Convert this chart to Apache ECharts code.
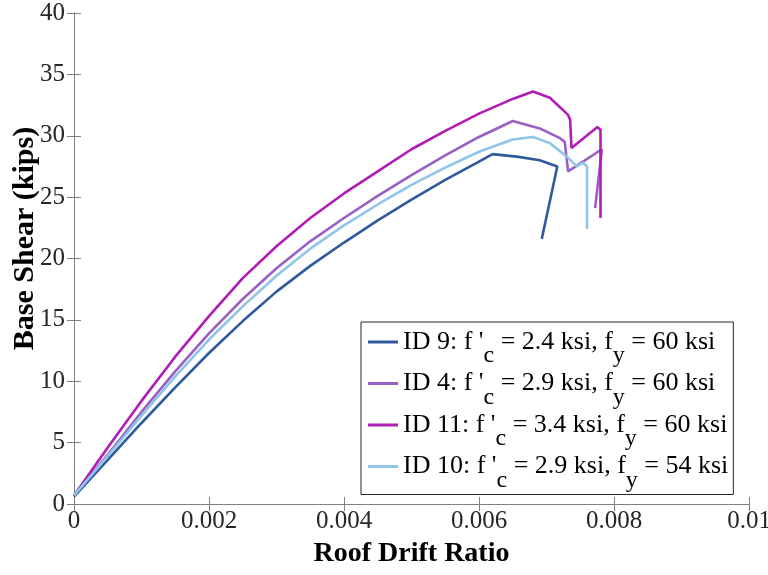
<!DOCTYPE html>
<html>
<head>
<meta charset="utf-8">
<script src="https://cdn.jsdelivr.net/npm/echarts@6/dist/echarts.min.js"></script>
<style>
  html, body { margin: 0; padding: 0; background: #fff; }
  #chart { width: 768px; height: 575px; }
</style>
</head>
<body>
<div id="chart"></div>
<script>
// Pushover curves: [roof drift ratio, base shear (kips)]
const id9 = [
  [0, 0.6], [0.0005, 3.6], [0.001, 6.6], [0.0015, 9.5], [0.002, 12.3],
  [0.0025, 14.9], [0.003, 17.3], [0.0035, 19.4], [0.004, 21.3],
  [0.0045, 23.1], [0.005, 24.8], [0.0055, 26.4], [0.006, 27.9],
  [0.0062, 28.5], [0.00656, 28.3], [0.0069, 28.0], [0.00716, 27.5],
  [0.00693, 21.6]
];
const id4 = [
  [0, 0.7], [0.0005, 4.0], [0.001, 7.5], [0.0015, 10.8], [0.002, 13.9],
  [0.0025, 16.7], [0.003, 19.2], [0.0035, 21.4], [0.004, 23.3],
  [0.0045, 25.1], [0.005, 26.8], [0.0055, 28.4], [0.006, 29.9],
  [0.0065, 31.2], [0.0069, 30.6], [0.0072, 29.8], [0.00727, 29.5],
  [0.00732, 27.1], [0.00782, 28.9], [0.00772, 24.1]
];
const id11 = [
  [0, 0.7], [0.0005, 4.6], [0.001, 8.4], [0.0015, 12.0], [0.002, 15.3],
  [0.0025, 18.4], [0.003, 21.0], [0.0035, 23.3], [0.004, 25.3],
  [0.0045, 27.1], [0.005, 28.9], [0.0055, 30.4], [0.006, 31.8],
  [0.0065, 33.0], [0.0068, 33.6], [0.00705, 33.1], [0.00732, 31.7],
  [0.00735, 31.3], [0.00737, 29.0], [0.00775, 30.7], [0.0078, 30.5],
  [0.0078, 23.3]
];
const id10 = [
  [0, 0.7], [0.0005, 3.9], [0.001, 7.2], [0.0015, 10.4], [0.002, 13.4],
  [0.0025, 16.1], [0.003, 18.6], [0.0035, 20.8], [0.004, 22.7],
  [0.0045, 24.4], [0.005, 26.0], [0.0055, 27.4], [0.006, 28.7],
  [0.0065, 29.7], [0.0068, 29.9], [0.00705, 29.4], [0.0073, 28.3],
  [0.00745, 27.5], [0.00754, 27.8], [0.0076, 27.5], [0.0076, 22.4]
];

// Legend parts
const specimenIds = ['ID 9', 'ID 4', 'ID 11', 'ID 10'];
const fcValues = ['2.4', '2.9', '3.4', '2.9'];
const fyValues = ['60', '60', '60', '54'];
const curves = [id9, id4, id11, id10];
const colors = ['#2f5a9e', '#9a5fc4', '#b01cb5', '#90c5ea'];

const xTicks = [0, 0.002, 0.004, 0.006, 0.008, 0.01];

const serif = 'Liberation Serif';

const seriesNames = specimenIds.map((id, i) =>
  id + ": f'c = " + fcValues[i] + ' ksi, fy = ' + fyValues[i] + ' ksi');

// f'c and fy drawn with lowered subscripts
const richNames = {};
specimenIds.forEach((id, i) => {
  richNames[seriesNames[i]] =
    '{t|' + id + ": f '}{s|c}{t| = " + fcValues[i] + ' ksi, f}{s|y}{t| = ' + fyValues[i] + ' ksi}';
});

const axisLineColor = '#808080';
const chart = echarts.init(document.getElementById('chart'), null, { renderer: 'canvas' });

const tickStyle = { show: true, inside: true, length: 7, lineStyle: { color: axisLineColor } };
const lineStyleAxis = { show: true, lineStyle: { color: axisLineColor, width: 1 } };

const option = {
  animation: false,
  backgroundColor: '#fff',
  grid: { left: 74, right: 19, top: 13, bottom: 71, containLabel: false, outerBoundsMode: 'none' },
  xAxis: [{
    type: 'value', min: 0, max: 0.01, interval: 0.002,
    name: 'Roof Drift Ratio', nameLocation: 'middle', nameGap: 36,
    nameMoveOverlap: false,
    nameTextStyle: { fontFamily: serif, fontSize: 28, fontWeight: 'bold', color: '#000' },
    axisLine: lineStyleAxis,
    axisTick: tickStyle,
    axisLabel: {
      fontFamily: serif, fontSize: 25, color: '#262626', margin: 5,
      formatter: v => { const m = xTicks.find(t => Math.abs(t - v) < 1e-9); return m === undefined ? '' : String(+m.toFixed(3)); }
    },
    splitLine: { show: false }
  }, {
    type: 'value', min: 0, max: 0.01, interval: 0.002, position: 'top',
    axisLine: lineStyleAxis, axisTick: tickStyle,
    axisLabel: { show: false }, splitLine: { show: false }
  }],
  yAxis: [{
    type: 'value', min: 0, max: 40, interval: 5,
    name: 'Base Shear (kips)', nameLocation: 'middle', nameGap: 34,
    nameMoveOverlap: false,
    nameTextStyle: { fontFamily: serif, fontSize: 30, fontWeight: 'bold', color: '#000', padding: [0, 0, 0, 40] },
    axisLine: lineStyleAxis,
    axisTick: tickStyle,
    axisLabel: { fontFamily: serif, fontSize: 25, color: '#262626', margin: 9 },
    splitLine: { show: false }
  }, {
    type: 'value', min: 0, max: 40, interval: 5, position: 'right',
    axisLine: lineStyleAxis, axisTick: tickStyle,
    axisLabel: { show: false }, splitLine: { show: false }
  }],
  legend: {
    orient: 'vertical', left: 361, top: 322,
    backgroundColor: '#fff', borderColor: '#262626', borderWidth: 1,
    padding: [4, 5, 2, 7],
    itemWidth: 30, itemHeight: 3, itemGap: -0.5,
    icon: 'rect',
    data: seriesNames,
    formatter: name => richNames[name],
    textStyle: {
      fontFamily: serif, lineHeight: 32,
      rich: {
        t: { fontFamily: serif, fontSize: 26, color: '#000', lineHeight: 32 },
        s: { fontFamily: serif, fontSize: 24, color: '#000', lineHeight: 32, height: 4, verticalAlign: 'bottom' }
      }
    }
  },
  series: curves.map((c, i) => ({
    name: seriesNames[i],
    type: 'line',
    data: c,
    showSymbol: false,
    symbol: 'none',
    smooth: false,
    color: colors[i],
    lineStyle: { color: colors[i], width: 2.6 },
    z: 2 + i
  }))
};
chart.setOption(option);
</script>
</body>
</html>
